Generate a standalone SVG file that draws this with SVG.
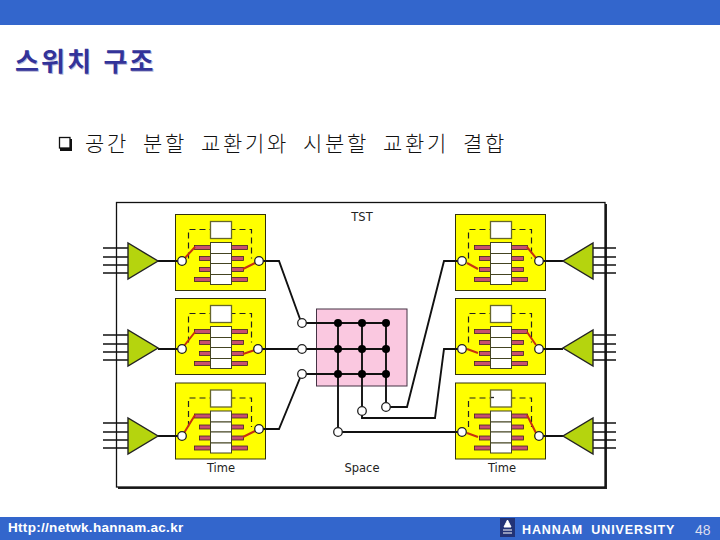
<svg xmlns="http://www.w3.org/2000/svg" width="720" height="540" viewBox="0 0 720 540">
<style>
.band{fill:#3366cc}
.title{font:bold 26px "Noto Sans CJK KR","Noto Sans",sans-serif;letter-spacing:2.200px;word-spacing:2px}
.body{font:300 21px "Noto Sans CJK KR","Noto Sans",sans-serif;fill:#111;letter-spacing:2.700px;word-spacing:6.600px}
.lbl{font:11.500px "DejaVu Sans",sans-serif;fill:#222;text-anchor:middle}
.foot{font:bold 12.500px "Liberation Sans",Arial,sans-serif;fill:#fff}
.wire{fill:none;stroke:#111;stroke-width:1.900}
.sw{fill:#ffff00;stroke:#33330a;stroke-width:1}
.dash{fill:none;stroke:#222;stroke-width:1.200;stroke-dasharray:6 4}
.cell{fill:#fff;stroke:#444422;stroke-width:1}
.cap{fill:#fff;stroke:#66662a;stroke-width:1.300}
.bar{fill:#c8506e;stroke:#40202a;stroke-width:.8}
.red{fill:none;stroke:#c8300f;stroke-width:2}
.tri{fill:#b5d40e;stroke:#222;stroke-width:1.400}
.port{fill:#fff;stroke:#222;stroke-width:1.300}
.dot{fill:#000}
.in{stroke:#111;stroke-width:1.700;fill:none}
</style>
<defs>
<g id="box">
<rect class="sw" x="0" y="0" width="90" height="76"/>
<path class="dash" d="M13 44V15H76V44"/>
<rect class="cap" x="35" y="7" width="21" height="17"/>
<rect class="bar" x="19" y="31" width="53" height="4"/>
<rect class="bar" x="24" y="42" width="44" height="4"/>
<rect class="bar" x="24" y="53" width="44" height="4"/>
<rect class="bar" x="19" y="63" width="53" height="4"/>
<rect class="cell" x="35" y="28" width="21" height="11"/>
<rect class="cell" x="35" y="39" width="21" height="10"/>
<rect class="cell" x="35" y="49" width="21" height="11"/>
<rect class="cell" x="35" y="60" width="21" height="10"/>
</g>
<g id="ampL">
<path class="in" d="M103 -13H128M103 -4H128M103 4H128M103 12H128"/>
<path class="tri" d="M128 -18V18L158 0Z"/>
</g>
<g id="ampR">
<path class="in" d="M593 -13H616M593 -4H616M593 4H616M593 12H616"/>
<path class="tri" d="M593 -18V18L563 0Z"/>
</g>
</defs>

<rect class="band" x="0" y="0" width="720" height="25"/>
<rect class="band" x="0" y="517" width="720" height="23"/>

<g id="title">
<text class="title" x="15.800" y="71.800" fill="#b8b8d8">스위치 구조</text>
<text class="title" x="15" y="71" fill="#333399">스위치 구조</text>
</g>
<g id="bullet">
<rect x="60" y="139" width="12" height="12" fill="#111"/>
<rect x="59.500" y="137.500" width="10.500" height="10.500" fill="#fff" stroke="#111" stroke-width="1.300"/>
<text class="body" x="85" y="150.500">공간 분할 교환기와 시분할 교환기 결합</text>
</g>

<g id="frame">
<rect x="118" y="204" width="489" height="285" fill="#222"/>
<rect x="116.500" y="202.500" width="488.500" height="284.500" fill="#fff" stroke="#111" stroke-width="1.300"/>
</g>

<g id="switch-l1"><use href="#box" x="175.500" y="214.500"/><path class="red" d="M184 259L195 247M243 269L255 263"/></g>
<g id="switch-l2"><use href="#box" x="175.500" y="298.500"/><path class="red" d="M184 346L195 332M243 354L255 350"/></g>
<g id="switch-l3"><use href="#box" x="175.500" y="383"/><path class="red" d="M184 433L195 415M243 437L255 431"/></g>
<g id="switch-r1"><use href="#box" x="455.500" y="214.500"/><path class="red" d="M527 247L536 258M467 263L478 269"/></g>
<g id="switch-r2"><use href="#box" x="455.500" y="298.500"/><path class="red" d="M527 332L536 345M467 349L478 353"/></g>
<g id="switch-r3"><use href="#box" x="455.500" y="383"/><path class="red" d="M527 415L536 433M467 433L478 437"/><path d="M491 397.500H494" stroke="#222" stroke-width="1.300"/></g>

<g id="crossbar"><rect x="316.500" y="309" width="90.500" height="77" fill="#fac8e0" stroke="#443344" stroke-width="1"/></g>

<g id="connectors">
<path class="wire" d="M158 261H178M158 349H178M158 436H178M563 261H543M563 349H543M563 436H543"/>
<path class="wire" d="M263 261H279L300 319"/>
<path class="wire" d="M262 349H298"/>
<path class="wire" d="M263 429H279L300 378"/>
<path class="wire" d="M306 323H386M306 349H386M306 374H386"/>
<path class="wire" d="M338 323V428M362 323V407M386 323V403"/>
<path class="wire" d="M390 407H407L444 261H458"/>
<path class="wire" d="M362 415V418H435L444 349H458"/>
<path class="wire" d="M342 432H458"/>
</g>

<g id="amp-l1"><use href="#ampL" y="261"/></g>
<g id="amp-l2"><use href="#ampL" y="348"/></g>
<g id="amp-l3"><use href="#ampL" y="436"/></g>
<g id="amp-r1"><use href="#ampR" y="261"/></g>
<g id="amp-r2"><use href="#ampR" y="348"/></g>
<g id="amp-r3"><use href="#ampR" y="436"/></g>

<g id="ports">
<circle class="port" cx="182" cy="261" r="4.300"/><circle class="port" cx="259" cy="261" r="4.300"/>
<circle class="port" cx="182" cy="349" r="4.300"/><circle class="port" cx="258" cy="349" r="4.300"/>
<circle class="port" cx="182" cy="436" r="4.300"/><circle class="port" cx="259" cy="429" r="4.300"/>
<circle class="port" cx="462" cy="261" r="4.300"/><circle class="port" cx="539" cy="261" r="4.300"/>
<circle class="port" cx="462" cy="349" r="4.300"/><circle class="port" cx="539" cy="349" r="4.300"/>
<circle class="port" cx="462" cy="432" r="4.300"/><circle class="port" cx="539" cy="436" r="4.300"/>
<circle class="port" cx="302" cy="323" r="4.300"/><circle class="port" cx="302" cy="349" r="4.300"/><circle class="port" cx="302" cy="374" r="4.300"/>
<circle class="port" cx="338" cy="432" r="4.300"/><circle class="port" cx="362" cy="411" r="4.300"/><circle class="port" cx="386" cy="407" r="4.300"/>
</g>
<g id="junctions">
<circle class="dot" cx="338" cy="323" r="4"/><circle class="dot" cx="362" cy="323" r="4"/><circle class="dot" cx="386" cy="323" r="4"/>
<circle class="dot" cx="338" cy="349" r="4"/><circle class="dot" cx="362" cy="349" r="4"/><circle class="dot" cx="386" cy="349" r="4"/>
<circle class="dot" cx="338" cy="374" r="4"/><circle class="dot" cx="362" cy="374" r="4"/><circle class="dot" cx="386" cy="374" r="4"/>
</g>

<g id="labels">
<text class="lbl" x="362" y="221">TST</text>
<text class="lbl" x="221" y="472">Time</text>
<text class="lbl" x="362" y="472">Space</text>
<text class="lbl" x="502" y="472">Time</text>
</g>

<g id="footer">
<text class="foot" x="8" y="532" style="font-size:13.500px;letter-spacing:.3px">Http://netwk.hannam.ac.kr</text>
<rect x="500" y="518" width="15" height="19" fill="#223377"/>
<path d="M507.500 520L504 527H511ZM503 530H512M503 533H512" stroke="#fff" fill="#fff" stroke-width="1"/>
<text class="foot" x="522" y="534" style="letter-spacing:.9px;word-spacing:4px">HANNAM UNIVERSITY</text>
<text x="695" y="535" style="font:14px 'Liberation Sans',Arial,sans-serif;fill:#dde">48</text>
</g>
</svg>
